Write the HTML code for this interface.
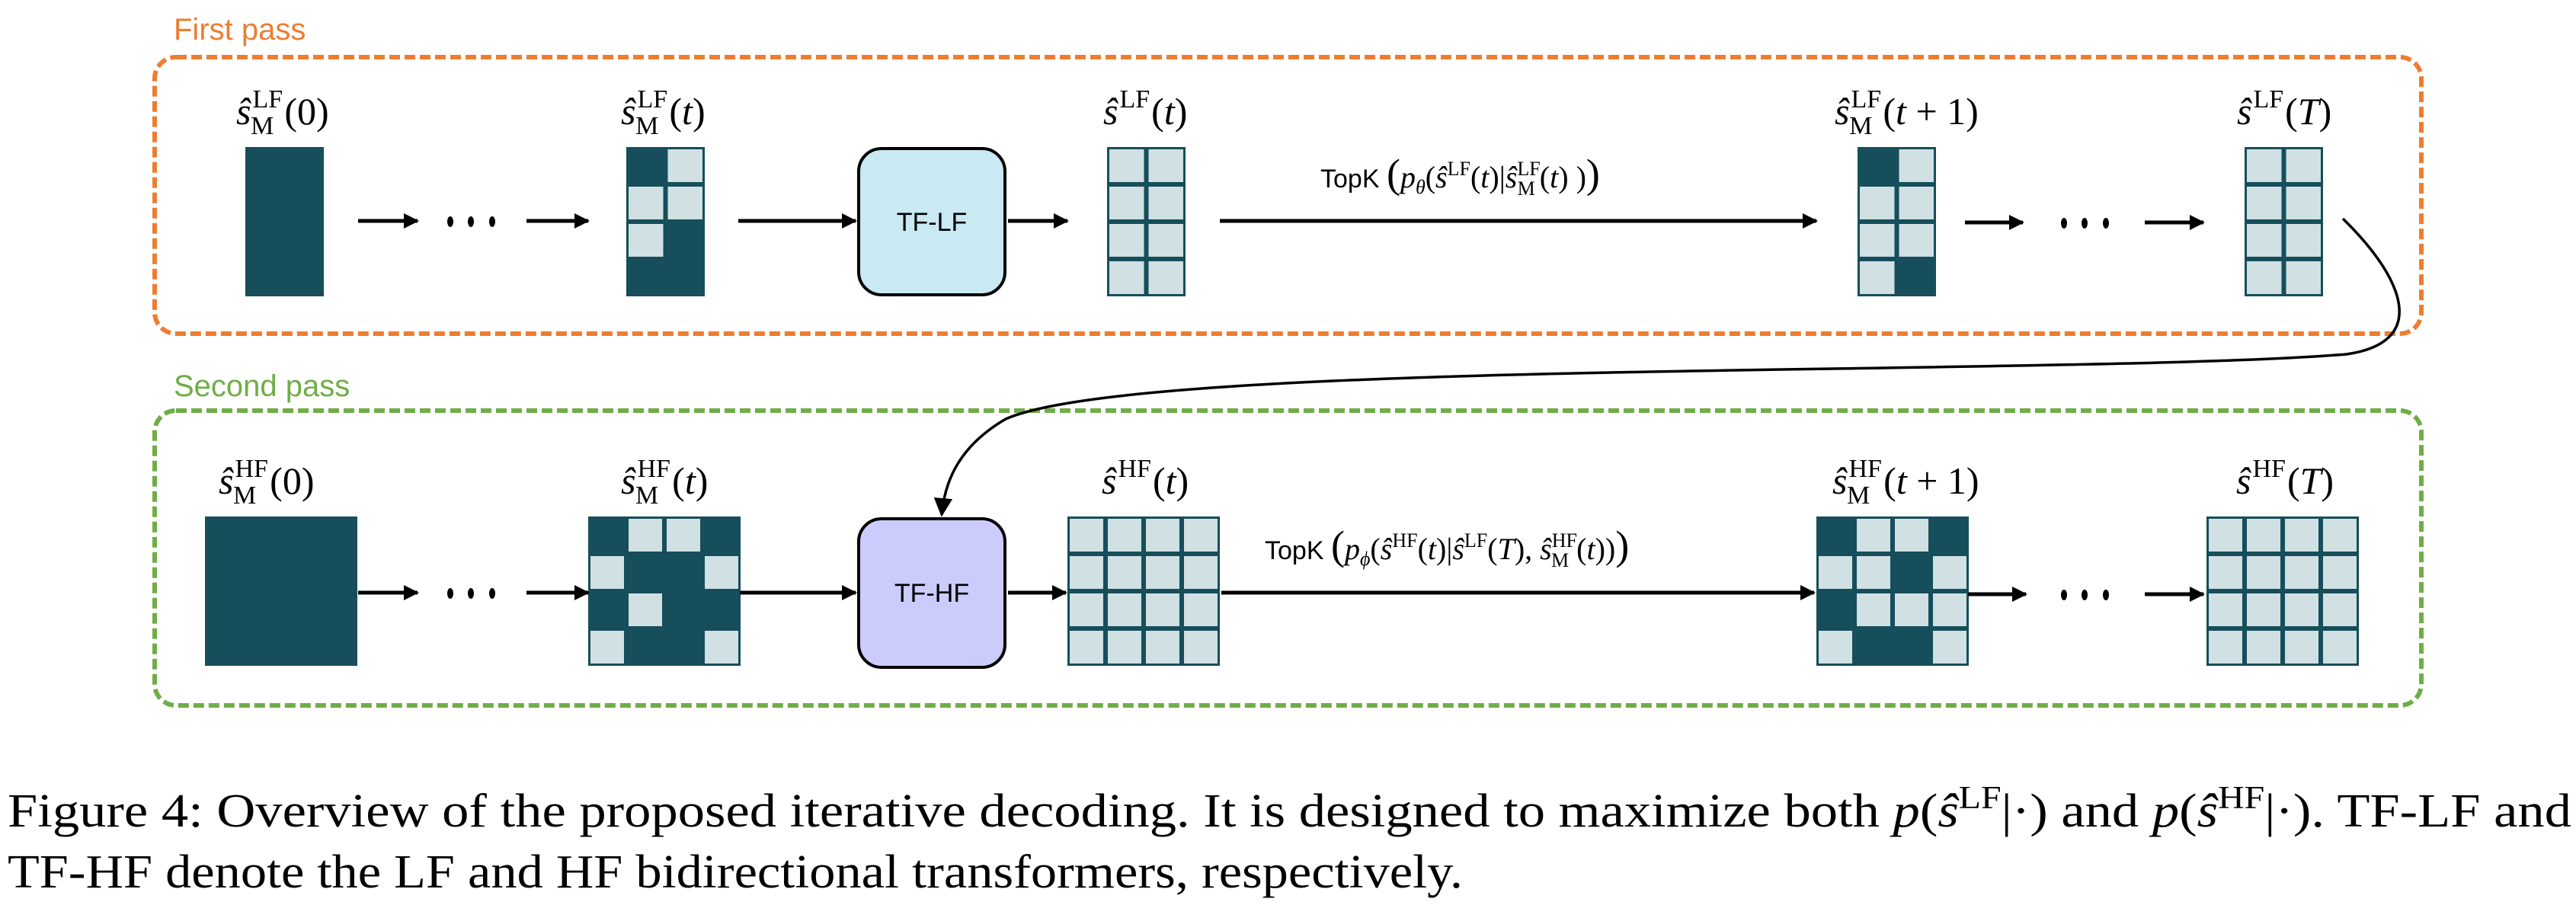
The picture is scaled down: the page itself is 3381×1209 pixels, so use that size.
<!DOCTYPE html>
<html><head><meta charset="utf-8"><style>html,body{margin:0;padding:0;background:#fff}svg{display:block}</style></head><body>
<svg width="3381" height="1209" viewBox="0 0 3381 1209" xmlns="http://www.w3.org/2000/svg">
<defs>
<marker id="ah" viewBox="0 0 10 10" refX="9" refY="5" markerWidth="4" markerHeight="4" orient="auto" markerUnits="strokeWidth"><path d="M0,0 L10,5 L0,10 z" fill="#000"/></marker>
<marker id="ah2" viewBox="0 0 10 10" refX="9" refY="5" markerWidth="7" markerHeight="7" orient="auto" markerUnits="strokeWidth"><path d="M0,0 L10,5 L0,10 z" fill="#000"/></marker>
</defs>
<g font-family="Liberation Sans, sans-serif">
<text x="228" y="52" font-size="40" fill="#ED7D31">First pass</text>
<text x="228" y="520" font-size="40" fill="#70AD47">Second pass</text>
</g>
<rect x="203" y="75" width="2975" height="363" rx="28" fill="none" stroke="#ED7D31" stroke-width="6" stroke-dasharray="14,6"/>
<rect x="203" y="539" width="2975" height="387" rx="28" fill="none" stroke="#70AD47" stroke-width="6" stroke-dasharray="14,6"/>

<g fill="#164E5B">
<rect x="322" y="193" width="103" height="196"/>
<rect x="822" y="193" width="103" height="196"/>
<rect x="1453" y="193" width="103" height="196"/>
<rect x="2438" y="193" width="103" height="196"/>
<rect x="2946" y="193" width="103" height="196"/>
<rect x="269" y="678" width="200" height="196"/>
<rect x="772" y="678" width="200" height="196"/>
<rect x="1401" y="678" width="200" height="196"/>
<rect x="2384" y="678" width="200" height="196"/>
<rect x="2896" y="678" width="200" height="196"/>
</g>
<g fill="#D0E0E3">
<!-- LF t -->
<rect x="876.5" y="196" width="45.5" height="43"/>
<rect x="825" y="245" width="45.5" height="43"/><rect x="876.5" y="245" width="45.5" height="43"/>
<rect x="825" y="294" width="45.5" height="43"/>
<!-- LF s(t) -->
<rect x="1456" y="196" width="45.5" height="43"/><rect x="1507.5" y="196" width="45.5" height="43"/>
<rect x="1456" y="245" width="45.5" height="43"/><rect x="1507.5" y="245" width="45.5" height="43"/>
<rect x="1456" y="294" width="45.5" height="43"/><rect x="1507.5" y="294" width="45.5" height="43"/>
<rect x="1456" y="343" width="45.5" height="43"/><rect x="1507.5" y="343" width="45.5" height="43"/>
<!-- LF t+1 -->
<rect x="2492.5" y="196" width="45.5" height="43"/>
<rect x="2441" y="245" width="45.5" height="43"/><rect x="2492.5" y="245" width="45.5" height="43"/>
<rect x="2441" y="294" width="45.5" height="43"/><rect x="2492.5" y="294" width="45.5" height="43"/>
<rect x="2441" y="343" width="45.5" height="43"/>
<!-- LF T -->
<rect x="2949" y="196" width="45.5" height="43"/><rect x="3000.5" y="196" width="45.5" height="43"/>
<rect x="2949" y="245" width="45.5" height="43"/><rect x="3000.5" y="245" width="45.5" height="43"/>
<rect x="2949" y="294" width="45.5" height="43"/><rect x="3000.5" y="294" width="45.5" height="43"/>
<rect x="2949" y="343" width="45.5" height="43"/><rect x="3000.5" y="343" width="45.5" height="43"/>
<!-- HF t -->
<rect x="825" y="681" width="44" height="43"/><rect x="875" y="681" width="44" height="43"/>
<rect x="775" y="730" width="44" height="43"/><rect x="925" y="730" width="44" height="43"/>
<rect x="825" y="779" width="44" height="43"/>
<rect x="775" y="828" width="44" height="43"/><rect x="925" y="828" width="44" height="43"/>
<!-- HF s(t) -->
<rect x="1404" y="681" width="44" height="43"/><rect x="1454" y="681" width="44" height="43"/><rect x="1504" y="681" width="44" height="43"/><rect x="1554" y="681" width="44" height="43"/>
<rect x="1404" y="730" width="44" height="43"/><rect x="1454" y="730" width="44" height="43"/><rect x="1504" y="730" width="44" height="43"/><rect x="1554" y="730" width="44" height="43"/>
<rect x="1404" y="779" width="44" height="43"/><rect x="1454" y="779" width="44" height="43"/><rect x="1504" y="779" width="44" height="43"/><rect x="1554" y="779" width="44" height="43"/>
<rect x="1404" y="828" width="44" height="43"/><rect x="1454" y="828" width="44" height="43"/><rect x="1504" y="828" width="44" height="43"/><rect x="1554" y="828" width="44" height="43"/>
<!-- HF t+1 -->
<rect x="2437" y="681" width="44" height="43"/><rect x="2487" y="681" width="44" height="43"/>
<rect x="2387" y="730" width="44" height="43"/><rect x="2437" y="730" width="44" height="43"/><rect x="2537" y="730" width="44" height="43"/>
<rect x="2437" y="779" width="44" height="43"/><rect x="2487" y="779" width="44" height="43"/><rect x="2537" y="779" width="44" height="43"/>
<rect x="2387" y="828" width="44" height="43"/><rect x="2537" y="828" width="44" height="43"/>
<!-- HF T -->
<rect x="2899" y="681" width="44" height="43"/><rect x="2949" y="681" width="44" height="43"/><rect x="2999" y="681" width="44" height="43"/><rect x="3049" y="681" width="44" height="43"/>
<rect x="2899" y="730" width="44" height="43"/><rect x="2949" y="730" width="44" height="43"/><rect x="2999" y="730" width="44" height="43"/><rect x="3049" y="730" width="44" height="43"/>
<rect x="2899" y="779" width="44" height="43"/><rect x="2949" y="779" width="44" height="43"/><rect x="2999" y="779" width="44" height="43"/><rect x="3049" y="779" width="44" height="43"/>
<rect x="2899" y="828" width="44" height="43"/><rect x="2949" y="828" width="44" height="43"/><rect x="2999" y="828" width="44" height="43"/><rect x="3049" y="828" width="44" height="43"/>
</g>

<rect x="1127" y="195" width="192" height="192" rx="30" fill="#C9E9F3" stroke="#000" stroke-width="4"/>
<rect x="1127" y="681" width="192" height="195" rx="30" fill="#CCCCFC" stroke="#000" stroke-width="4"/>
<g font-family="Liberation Sans, sans-serif" font-size="34" text-anchor="middle">
<text x="1223" y="303">TF-LF</text>
<text x="1223" y="790">TF-HF</text>
</g>

<g stroke="#000" stroke-width="5" fill="none" marker-end="url(#ah)">
<line x1="470" y1="290" x2="548" y2="290"/><line x1="691" y1="290" x2="772" y2="290"/>
<line x1="969" y1="290" x2="1123" y2="290"/><line x1="1323" y1="290" x2="1401" y2="290"/>
<line x1="1601" y1="290" x2="2384" y2="290"/>
<line x1="2579" y1="292" x2="2655" y2="292"/><line x1="2815" y1="292" x2="2892" y2="292"/>
<line x1="470" y1="778" x2="548" y2="778"/><line x1="691" y1="778" x2="772" y2="778"/>
<line x1="971" y1="778" x2="1123" y2="778"/><line x1="1323" y1="778" x2="1399" y2="778"/>
<line x1="1603" y1="778" x2="2381" y2="778"/>
<line x1="2583" y1="780" x2="2659" y2="780"/><line x1="2815" y1="780" x2="2892" y2="780"/>
</g>
<path d="M3075,287 C3160,370 3185,450 3080,465 C2700,495 1500,470 1320,550 C1260,585 1240,630 1236,676" stroke="#000" stroke-width="3.5" fill="none" marker-end="url(#ah2)"/>
<g fill="#000">
<ellipse cx="591" cy="291" rx="4" ry="7"/><ellipse cx="618" cy="291" rx="4" ry="7"/><ellipse cx="646" cy="291" rx="4" ry="7"/>
<ellipse cx="2709" cy="293" rx="4" ry="7"/><ellipse cx="2736" cy="293" rx="4" ry="7"/><ellipse cx="2764" cy="293" rx="4" ry="7"/>
<ellipse cx="591" cy="779" rx="4" ry="7"/><ellipse cx="618" cy="779" rx="4" ry="7"/><ellipse cx="646" cy="779" rx="4" ry="7"/>
<ellipse cx="2709" cy="781" rx="4" ry="7"/><ellipse cx="2736" cy="781" rx="4" ry="7"/><ellipse cx="2764" cy="781" rx="4" ry="7"/>
</g>

<g font-family="Liberation Serif, serif" font-size="50" fill="#000">
<text x="310" y="163"><tspan font-style="italic">ŝ</tspan><tspan font-size="34" dx="2" dy="-22">LF</tspan><tspan font-size="34" dx="-42" dy="35">M</tspan><tspan dx="14" dy="-13">(0)</tspan></text>
<text x="815" y="163"><tspan font-style="italic">ŝ</tspan><tspan font-size="34" dx="2" dy="-22">LF</tspan><tspan font-size="34" dx="-42" dy="35">M</tspan><tspan dx="14" dy="-13">(</tspan><tspan font-style="italic">t</tspan><tspan>)</tspan></text>
<text x="1448" y="163"><tspan font-style="italic">ŝ</tspan><tspan font-size="34" dx="2" dy="-22">LF</tspan><tspan dx="2" dy="22">(</tspan><tspan font-style="italic">t</tspan><tspan>)</tspan></text>
<text x="2408" y="163"><tspan font-style="italic">ŝ</tspan><tspan font-size="34" dx="2" dy="-22">LF</tspan><tspan font-size="34" dx="-42" dy="35">M</tspan><tspan dx="14" dy="-13">(</tspan><tspan font-style="italic">t</tspan><tspan> + 1)</tspan></text>
<text x="2936" y="163"><tspan font-style="italic">ŝ</tspan><tspan font-size="34" dx="2" dy="-22">LF</tspan><tspan dx="2" dy="22">(</tspan><tspan font-style="italic">T</tspan><tspan>)</tspan></text>

<text x="287" y="648"><tspan font-style="italic">ŝ</tspan><tspan font-size="34" dx="2" dy="-22">HF</tspan><tspan font-size="34" dx="-46" dy="35">M</tspan><tspan dx="18" dy="-13">(0)</tspan></text>
<text x="815" y="648"><tspan font-style="italic">ŝ</tspan><tspan font-size="34" dx="2" dy="-22">HF</tspan><tspan font-size="34" dx="-46" dy="35">M</tspan><tspan dx="18" dy="-13">(</tspan><tspan font-style="italic">t</tspan><tspan>)</tspan></text>
<text x="1446" y="648"><tspan font-style="italic">ŝ</tspan><tspan font-size="34" dx="2" dy="-22">HF</tspan><tspan dx="2" dy="22">(</tspan><tspan font-style="italic">t</tspan><tspan>)</tspan></text>
<text x="2405" y="648"><tspan font-style="italic">ŝ</tspan><tspan font-size="34" dx="2" dy="-22">HF</tspan><tspan font-size="34" dx="-46" dy="35">M</tspan><tspan dx="18" dy="-13">(</tspan><tspan font-style="italic">t</tspan><tspan> + 1)</tspan></text>
<text x="2935" y="648"><tspan font-style="italic">ŝ</tspan><tspan font-size="34" dx="2" dy="-22">HF</tspan><tspan dx="2" dy="22">(</tspan><tspan font-style="italic">T</tspan><tspan>)</tspan></text>
</g>

<g font-size="34" fill="#000">
<text x="1733" y="246"><tspan font-family="Liberation Sans, sans-serif">TopK </tspan><tspan font-family="Liberation Serif, serif" font-size="54">(</tspan><tspan font-family="Liberation Serif, serif" font-style="italic" font-size="40">p</tspan><tspan font-family="Liberation Serif, serif" font-style="italic" font-size="26" dy="8">θ</tspan><tspan font-family="Liberation Serif, serif" font-size="40" dy="-8">(</tspan><tspan font-family="Liberation Serif, serif" font-style="italic" font-size="40">ŝ</tspan><tspan font-family="Liberation Serif, serif" font-size="26" dy="-16">LF</tspan><tspan font-family="Liberation Serif, serif" font-size="40" dy="16">(</tspan><tspan font-family="Liberation Serif, serif" font-style="italic" font-size="40">t</tspan><tspan font-family="Liberation Serif, serif" font-size="40">)|</tspan><tspan font-family="Liberation Serif, serif" font-style="italic" font-size="40">ŝ</tspan><tspan font-family="Liberation Serif, serif" font-size="26" dy="-16">LF</tspan><tspan font-family="Liberation Serif, serif" font-size="26" dx="-30" dy="26">M</tspan><tspan font-family="Liberation Serif, serif" font-size="40" dx="6" dy="-10">(</tspan><tspan font-family="Liberation Serif, serif" font-style="italic" font-size="40">t</tspan><tspan font-family="Liberation Serif, serif" font-size="40">) )</tspan><tspan font-family="Liberation Serif, serif" font-size="54">)</tspan></text>
<text x="1660" y="734"><tspan font-family="Liberation Sans, sans-serif">TopK </tspan><tspan font-family="Liberation Serif, serif" font-size="54">(</tspan><tspan font-family="Liberation Serif, serif" font-style="italic" font-size="40">p</tspan><tspan font-family="Liberation Serif, serif" font-style="italic" font-size="26" dy="8">ϕ</tspan><tspan font-family="Liberation Serif, serif" font-size="40" dy="-8">(</tspan><tspan font-family="Liberation Serif, serif" font-style="italic" font-size="40">ŝ</tspan><tspan font-family="Liberation Serif, serif" font-size="26" dy="-16">HF</tspan><tspan font-family="Liberation Serif, serif" font-size="40" dy="16">(</tspan><tspan font-family="Liberation Serif, serif" font-style="italic" font-size="40">t</tspan><tspan font-family="Liberation Serif, serif" font-size="40">)|</tspan><tspan font-family="Liberation Serif, serif" font-style="italic" font-size="40">ŝ</tspan><tspan font-family="Liberation Serif, serif" font-size="26" dy="-16">LF</tspan><tspan font-family="Liberation Serif, serif" font-size="40" dy="16">(</tspan><tspan font-family="Liberation Serif, serif" font-style="italic" font-size="40">T</tspan><tspan font-family="Liberation Serif, serif" font-size="40">), </tspan><tspan font-family="Liberation Serif, serif" font-style="italic" font-size="40">ŝ</tspan><tspan font-family="Liberation Serif, serif" font-size="26" dy="-16">HF</tspan><tspan font-family="Liberation Serif, serif" font-size="26" dx="-34" dy="26">M</tspan><tspan font-family="Liberation Serif, serif" font-size="40" dx="10" dy="-10">(</tspan><tspan font-family="Liberation Serif, serif" font-style="italic" font-size="40">t</tspan><tspan font-family="Liberation Serif, serif" font-size="40">))</tspan><tspan font-family="Liberation Serif, serif" font-size="54">)</tspan></text>
</g>

<g font-family="Liberation Serif, serif" font-size="62" fill="#000">
<text x="10" y="1085" textLength="3365" lengthAdjust="spacingAndGlyphs">Figure 4: Overview of the proposed iterative decoding. It is designed to maximize both <tspan font-style="italic">p</tspan>(<tspan font-style="italic">ŝ</tspan><tspan font-size="42" dy="-24">LF</tspan><tspan dy="24">|·) and </tspan><tspan font-style="italic">p</tspan>(<tspan font-style="italic">ŝ</tspan><tspan font-size="42" dy="-24">HF</tspan><tspan dy="24">|·). TF-LF and</tspan></text>
<text x="10" y="1165" textLength="1910" lengthAdjust="spacingAndGlyphs">TF-HF denote the LF and HF bidirectional transformers, respectively.</text>
</g>
</svg>
</body></html>
